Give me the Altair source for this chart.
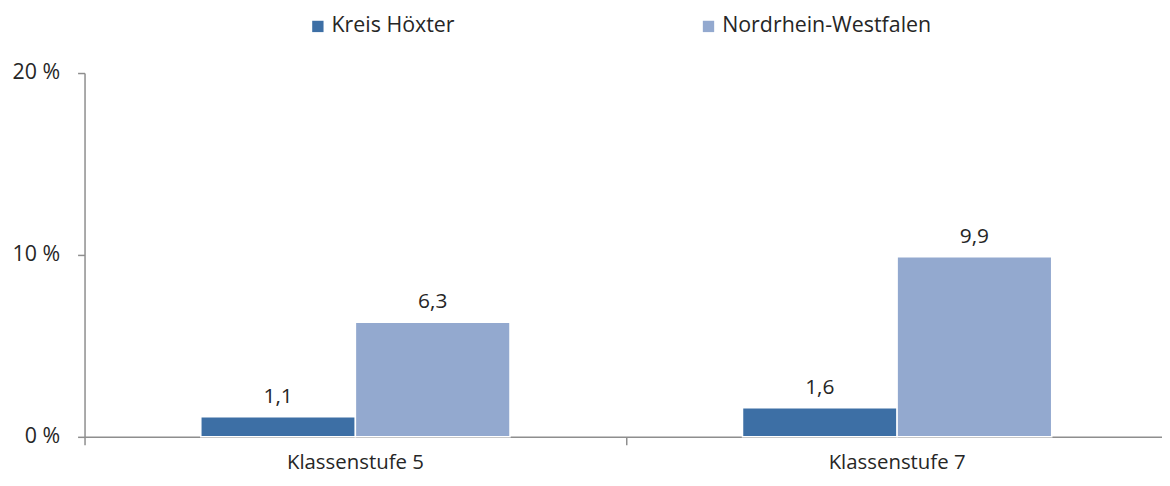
import altair as alt
import pandas as pd

categories = ["Klassenstufe 5", "Klassenstufe 7"]
series = ["Kreis Höxter", "Nordrhein-Westfalen"]
kreis_values = [1.1, 1.6]
nrw_values = [6.3, 9.9]
y_ticks = [0, 10, 20]
colors = ["#3D6FA5", "#93A9CF"]

rows = []
for i, c in enumerate(categories):
    rows.append({"cat": c, "series": series[0], "value": kreis_values[i]})
    rows.append({"cat": c, "series": series[1], "value": nrw_values[i]})
df = pd.DataFrame(rows)

FONT = "Open Sans"
TXT = "#262626"
AX = "#8E8E8E"
W, H = 1090, 366

x = alt.X(
    "cat:N", sort=categories, title=None,
    scale=alt.Scale(paddingInner=0, paddingOuter=0),
    axis=alt.Axis(labelAngle=0, bandPosition=0, tickSize=8,
                  labelFontSize=20.5, labelFont=FONT, labelColor=TXT, labelPadding=8,
                  domainColor=AX, tickColor=AX, domainWidth=1.5, tickWidth=1.5,
                  labelBound=False, labelOverlap=False),
)
xo = alt.XOffset("series:N", sort=series,
                 scale=alt.Scale(paddingInner=0, paddingOuter=0.752))
y = alt.Y(
    "value:Q", title=None,
    scale=alt.Scale(domain=[0, 20]),
    axis=alt.Axis(values=y_ticks, labelExpr="datum.value + ' %'", tickSize=7,
                  grid=False, labelFontSize=21.5, labelFont=FONT, labelColor=TXT,
                  labelPadding=18, domainColor=AX, tickColor=AX, domainWidth=1.5,
                  tickWidth=1.5),
)

bars = alt.Chart(df).mark_bar(stroke="white", strokeWidth=1.5).encode(
    x=x, xOffset=xo, y=y,
    color=alt.Color(
        "series:N", sort=series,
        scale=alt.Scale(domain=series, range=colors),
        legend=alt.Legend(orient="none", legendX=224, legendY=-58,
                          direction="horizontal", title=None, symbolType="square",
                          symbolSize=130, symbolStrokeWidth=0, labelFontSize=21.5,
                          labelFont=FONT, labelColor=TXT, labelOffset=3,
                          labelLimit=400, columnPadding=244),
    ),
)

labels = alt.Chart(df).transform_calculate(
    lab="replace(format(datum.value, '.1f'), '.', ',')"
).mark_text(dy=-14, baseline="alphabetic", fontSize=21, font=FONT, color=TXT).encode(
    x=x, xOffset=xo, y=y, text="lab:N"
)

chart = (bars + labels).properties(
    width=W, height=H,
    autosize=alt.AutoSizeParams(type="none"),
    padding={"left": 77, "top": 64, "right": -6, "bottom": 40},
).configure_view(stroke=None)

chart.save("out.html", embed_options={"renderer": "svg", "actions": False})
